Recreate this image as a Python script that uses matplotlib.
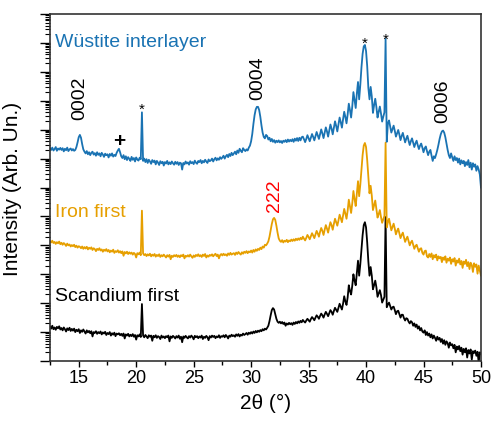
import numpy as np
import matplotlib
matplotlib.use("Agg")
import matplotlib.pyplot as plt
from matplotlib.ticker import LogLocator, NullFormatter, MultipleLocator

OUTPUT_FILENAME = "out.png"
FONT = ["Liberation Sans", "DejaVu Sans"]

BLUE = "#1a73b3"
ORANGE = "#e69f00"
BLACK = "#000000"

# scan: 12.5 ... 50.0 deg, 0.1 deg step; values are log10(counts)
SCAN_START, SCAN_STOP = 12.5, 50.0

wustite_interlayer = [
    7.36, 7.30, 7.38, 7.28, 7.33, 7.40, 7.27, 7.35, 7.31, 7.37,  # 12.5
    7.30, 7.36, 7.25, 7.34, 7.29, 7.38, 7.26, 7.32, 7.35, 7.28,  # 13.5
    7.33, 7.27, 7.30, 7.40, 7.56, 7.74, 7.82, 7.72, 7.50, 7.32,  # 14.5
    7.24, 7.18, 7.26, 7.15, 7.22, 7.12, 7.20, 7.24, 7.14, 7.19,  # 15.5
    7.10, 7.22, 7.13, 7.18, 7.08, 7.20, 7.14, 7.06, 7.17, 7.12,  # 16.5
    7.15, 7.04, 7.16, 7.10, 7.18, 7.07, 7.13, 7.09, 7.20, 7.28,  # 17.5
    7.34, 7.22, 7.08, 7.02, 7.12, 6.98, 7.08, 6.95, 7.05, 6.99,  # 18.5
    6.92, 7.06, 6.96, 7.02, 6.90, 7.04, 6.97, 6.93, 7.03, 6.98,  # 19.5
    8.60, 6.92, 7.00, 6.88, 6.98, 6.85, 6.96, 6.90, 6.82, 6.95,  # 20.5
    6.88, 6.93, 6.80, 6.92, 6.86, 6.78, 6.91, 6.84, 6.89, 6.76,  # 21.5
    6.88, 6.83, 6.92, 6.80, 6.87, 6.81, 6.90, 6.84, 6.79, 6.89,  # 22.5
    6.82, 6.88, 6.78, 6.86, 6.84, 6.62, 6.85, 6.80, 6.90, 6.83,  # 23.5
    6.87, 6.79, 6.91, 6.84, 6.88, 6.81, 6.93, 6.86, 6.82, 6.92,  # 24.5
    6.88, 6.95, 6.84, 6.92, 6.87, 6.96, 6.90, 6.85, 6.97, 6.91,  # 25.5
    6.94, 7.00, 6.90, 6.98, 7.03, 6.94, 7.01, 6.96, 7.05, 6.99,  # 26.5
    7.04, 7.10, 7.00, 7.08, 7.13, 7.05, 7.16, 7.09, 7.20, 7.12,  # 27.5
    7.18, 7.24, 7.15, 7.28, 7.20, 7.34, 7.27, 7.22, 7.36, 7.30,  # 28.5
    7.26, 7.32, 7.28, 7.38, 7.45, 7.60, 7.85, 8.20, 8.50, 8.70,  # 29.5
    8.79, 8.79, 8.68, 8.45, 8.15, 7.90, 7.75, 7.70, 7.82, 7.78,  # 30.5
    7.66, 7.72, 7.60, 7.68, 7.58, 7.64, 7.55, 7.62, 7.57, 7.63,  # 31.5
    7.56, 7.61, 7.54, 7.62, 7.58, 7.64, 7.57, 7.66, 7.59, 7.65,  # 32.5
    7.60, 7.67, 7.58, 7.69, 7.62, 7.71, 7.61, 7.72, 7.63, 7.74,  # 33.5
    7.76, 7.67, 7.57, 7.68, 7.81, 7.71, 7.60, 7.73, 7.85, 7.75,  # 34.5
    7.63, 7.77, 7.92, 7.80, 7.68, 7.84, 8.01, 7.87, 7.71, 7.89,  # 35.5
    8.08, 7.94, 7.76, 7.97, 8.18, 8.04, 7.84, 8.07, 8.29, 8.13,  # 36.5
    7.94, 8.18, 8.42, 8.26, 8.07, 8.36, 8.62, 8.44, 8.22, 8.53,  # 37.5
    8.90, 8.68, 8.42, 8.80, 9.30, 9.02, 8.75, 9.25, 9.65, 9.05,  # 38.5
    9.55, 10.15, 10.62, 10.88, 10.93, 10.72, 10.20, 9.45, 9.05, 9.48,  # 39.5
    9.15, 8.58, 8.85, 9.07, 8.78, 8.42, 8.62, 8.80, 8.56, 8.28,  # 40.5
    8.45, 8.60, 11.14, 7.58, 8.22, 8.32, 8.10, 7.90, 8.02, 8.14,  # 41.5
    7.96, 7.76, 7.88, 7.99, 7.83, 7.64, 7.78, 7.89, 7.72, 7.56,  # 42.5
    7.69, 7.79, 7.62, 7.47, 7.60, 7.70, 7.55, 7.40, 7.53, 7.62,  # 43.5
    7.46, 7.33, 7.45, 7.52, 7.38, 7.22, 7.36, 7.42, 7.26, 7.12,  # 44.5
    7.24, 7.30, 7.10, 6.92, 7.08, 7.02, 7.15, 7.30, 7.48, 7.68,  # 45.5
    7.84, 7.94, 7.97, 7.90, 7.74, 7.52, 7.30, 7.12, 7.02, 7.18,  # 46.5
    7.04, 6.92, 7.08, 6.95, 7.02, 6.86, 7.00, 6.80, 6.94, 6.84,  # 47.5
    6.92, 6.74, 6.88, 6.78, 6.95, 6.70, 6.86, 6.62, 6.84, 6.72,  # 48.5
    6.80, 6.58, 6.74, 6.62, 6.45, 6.00,                          # 49.5
]

iron_first = [
    4.14, 4.10, 4.16, 4.08, 4.12, 4.05, 4.11, 4.07, 4.13, 4.04,  # 12.5
    4.09, 4.02, 4.08, 4.04, 3.98, 4.06, 4.00, 4.03, 3.96, 4.01,  # 13.5
    3.97, 4.02, 3.94, 3.99, 3.92, 3.97, 3.95, 3.90, 3.96, 3.88,  # 14.5
    3.94, 3.89, 3.95, 3.86, 3.92, 3.88, 3.93, 3.84, 3.90, 3.87,  # 15.5
    3.80, 3.88, 3.84, 3.90, 3.82, 3.86, 3.78, 3.85, 3.81, 3.87,  # 16.5
    3.79, 3.84, 3.76, 3.82, 3.78, 3.85, 3.74, 3.80, 3.77, 3.83,  # 17.5
    3.75, 3.80, 3.73, 3.79, 3.64, 3.77, 3.72, 3.78, 3.70, 3.76,  # 18.5
    3.71, 3.75, 3.68, 3.74, 3.70, 3.58, 3.73, 3.69, 3.75, 3.66,  # 19.5
    5.20, 3.72, 3.66, 3.70, 3.63, 3.69, 3.65, 3.71, 3.62, 3.68,  # 20.5
    3.64, 3.70, 3.61, 3.67, 3.63, 3.69, 3.60, 3.66, 3.62, 3.68,  # 21.5
    3.63, 3.58, 3.66, 3.61, 3.67, 3.52, 3.64, 3.60, 3.66, 3.62,  # 22.5
    3.67, 3.60, 3.65, 3.59, 3.66, 3.62, 3.68, 3.55, 3.64, 3.61,  # 23.5
    3.66, 3.61, 3.68, 3.62, 3.57, 3.65, 3.60, 3.67, 3.63, 3.69,  # 24.5
    3.62, 3.66, 3.60, 3.68, 3.63, 3.70, 3.58, 3.65, 3.61, 3.67,  # 25.5
    3.64, 3.69, 3.62, 3.67, 3.71, 3.63, 3.68, 3.55, 3.66, 3.70,  # 26.5
    3.65, 3.71, 3.66, 3.69, 3.64, 3.72, 3.67, 3.74, 3.68, 3.71,  # 27.5
    3.73, 3.67, 3.75, 3.70, 3.77, 3.72, 3.68, 3.76, 3.71, 3.78,  # 28.5
    3.74, 3.80, 3.73, 3.79, 3.76, 3.82, 3.75, 3.84, 3.78, 3.86,  # 29.5
    3.81, 3.88, 3.84, 3.92, 3.87, 3.96, 3.92, 4.02, 4.00, 4.06,  # 30.5
    4.14, 4.30, 4.52, 4.74, 4.90, 4.95, 4.88, 4.68, 4.44, 4.24,  # 31.5
    4.16, 4.12, 4.18, 4.10, 4.16, 4.13, 4.19, 4.11, 4.17, 4.14,  # 32.5
    4.20, 4.15, 4.21, 4.16, 4.23, 4.18, 4.24, 4.19, 4.26, 4.21,  # 33.5
    4.30, 4.23, 4.17, 4.26, 4.36, 4.29, 4.21, 4.32, 4.42, 4.34,  # 34.5
    4.25, 4.38, 4.50, 4.41, 4.30, 4.47, 4.60, 4.50, 4.36, 4.54,  # 35.5
    4.70, 4.58, 4.44, 4.63, 4.80, 4.70, 4.54, 4.74, 4.92, 4.80,  # 36.5
    4.68, 4.86, 5.06, 4.94, 4.80, 5.02, 5.26, 5.10, 4.92, 5.20,  # 37.5
    5.58, 5.36, 5.12, 5.45, 5.88, 5.60, 5.36, 5.80, 6.22, 5.70,  # 38.5
    6.10, 6.62, 7.12, 7.45, 7.54, 7.40, 6.95, 6.35, 5.80, 6.06,  # 39.5
    5.72, 5.22, 5.38, 5.55, 5.26, 4.96, 5.08, 5.22, 4.98, 4.78,  # 40.5
    4.90, 5.02, 7.55, 4.62, 4.80, 4.92, 4.72, 4.52, 4.64, 4.75,  # 41.5
    4.58, 4.38, 4.50, 4.58, 4.42, 4.25, 4.36, 4.44, 4.28, 4.12,  # 42.5
    4.22, 4.30, 4.15, 4.00, 4.10, 4.16, 4.02, 3.88, 3.98, 4.02,  # 43.5
    3.90, 3.78, 3.88, 3.90, 3.74, 3.68, 3.80, 3.82, 3.62, 3.58,  # 44.5
    3.70, 3.60, 3.72, 3.52, 3.66, 3.58, 3.68, 3.48, 3.62, 3.55,  # 45.5
    3.60, 3.42, 3.58, 3.50, 3.62, 3.40, 3.54, 3.47, 3.58, 3.36,  # 46.5
    3.52, 3.44, 3.56, 3.30, 3.48, 3.40, 3.54, 3.34, 3.46, 3.22,  # 47.5
    3.44, 3.36, 3.50, 3.28, 3.42, 3.18, 3.40, 3.32, 3.08, 3.38,  # 48.5
    3.26, 3.34, 3.02, 3.30, 3.12, 2.96,                          # 49.5
]

scandium_first = [
    1.19, 1.12, 1.22, 1.10, 1.16, 1.08, 1.18, 1.13, 1.20, 1.09,  # 12.5
    1.14, 1.06, 1.16, 1.10, 1.02, 1.13, 1.07, 1.15, 1.04, 1.11,  # 13.5
    1.05, 1.12, 1.00, 1.08, 1.03, 1.10, 0.97, 1.06, 1.01, 1.09,  # 14.5
    1.02, 0.95, 1.06, 0.99, 1.04, 0.96, 1.03, 0.85, 1.00, 0.97,  # 15.5
    1.03, 0.94, 1.00, 0.96, 1.02, 0.92, 0.99, 0.95, 1.01, 0.90,  # 16.5
    0.97, 0.93, 1.00, 0.88, 0.96, 0.91, 0.98, 0.86, 0.95, 0.92,  # 17.5
    0.96, 0.89, 0.94, 0.87, 0.95, 0.78, 0.92, 0.88, 0.94, 0.85,  # 18.5
    0.91, 0.86, 0.93, 0.84, 0.90, 0.74, 0.89, 0.85, 0.92, 0.83,  # 19.5
    1.97, 0.88, 0.82, 0.90, 0.85, 0.79, 0.89, 0.84, 0.88, 0.70,  # 20.5
    0.87, 0.82, 0.89, 0.80, 0.86, 0.83, 0.76, 0.88, 0.81, 0.85,  # 21.5
    0.79, 0.86, 0.82, 0.88, 0.68, 0.85, 0.80, 0.87, 0.83, 0.78,  # 22.5
    0.86, 0.81, 0.88, 0.77, 0.84, 0.65, 0.85, 0.80, 0.87, 0.82,  # 23.5
    0.78, 0.86, 0.81, 0.88, 0.83, 0.75, 0.87, 0.82, 0.86, 0.79,  # 24.5
    0.85, 0.81, 0.88, 0.76, 0.84, 0.80, 0.87, 0.82, 0.72, 0.86,  # 25.5
    0.81, 0.88, 0.83, 0.87, 0.79, 0.85, 0.82, 0.89, 0.80, 0.86,  # 26.5
    0.84, 0.89, 0.82, 0.90, 0.85, 0.78, 0.88, 0.84, 0.91, 0.86,  # 27.5
    0.89, 0.84, 0.92, 0.87, 0.93, 0.85, 0.91, 0.88, 0.95, 0.90,  # 28.5
    0.93, 0.97, 0.91, 0.98, 0.94, 1.00, 0.95, 1.02, 0.97, 1.04,  # 29.5
    0.99, 1.05, 1.01, 1.07, 1.03, 1.10, 1.06, 1.12, 1.09, 1.15,  # 30.5
    1.22, 1.38, 1.58, 1.76, 1.83, 1.78, 1.62, 1.46, 1.36, 1.32,  # 31.5
    1.36, 1.30, 1.35, 1.28, 1.33, 1.22, 1.30, 1.26, 1.32, 1.27,  # 32.5
    1.31, 1.25, 1.33, 1.28, 1.35, 1.30, 1.37, 1.32, 1.39, 1.34,  # 33.5
    1.42, 1.37, 1.33, 1.40, 1.46, 1.41, 1.36, 1.45, 1.52, 1.47,  # 34.5
    1.41, 1.50, 1.58, 1.53, 1.46, 1.56, 1.64, 1.58, 1.50, 1.61,  # 35.5
    1.70, 1.63, 1.55, 1.66, 1.76, 1.70, 1.60, 1.73, 1.84, 1.77,  # 36.5
    1.70, 1.84, 1.98, 1.88, 1.78, 1.98, 2.24, 2.06, 1.94, 2.20,  # 37.5
    2.62, 2.42, 2.30, 2.60, 3.00, 2.78, 2.62, 3.05, 3.47, 2.95,  # 38.5
    3.35, 3.85, 4.35, 4.70, 4.80, 4.62, 4.10, 3.45, 2.95, 3.25,  # 39.5
    2.95, 2.48, 2.62, 2.78, 2.55, 2.22, 2.34, 2.45, 2.28, 2.02,  # 40.5
    2.12, 2.22, 4.98, 1.86, 1.95, 2.02, 1.90, 1.78, 1.86, 1.88,  # 41.5
    1.76, 1.62, 1.72, 1.74, 1.62, 1.50, 1.60, 1.60, 1.48, 1.40,  # 42.5
    1.48, 1.46, 1.36, 1.30, 1.38, 1.34, 1.22, 1.30, 1.18, 1.26,  # 43.5
    1.12, 1.20, 1.06, 1.14, 1.02, 0.98, 1.06, 0.90, 1.00, 0.88,  # 44.5
    0.95, 0.82, 0.92, 0.78, 0.88, 0.80, 0.70, 0.84, 0.74, 0.80,  # 45.5
    0.66, 0.76, 0.60, 0.72, 0.56, 0.68, 0.62, 0.46, 0.64, 0.54,  # 46.5
    0.58, 0.44, 0.56, 0.30, 0.50, 0.40, 0.52, 0.34, 0.46, 0.22,  # 47.5
    0.42, 0.30, 0.44, 0.12, 0.38, 0.26, 0.40, 0.05, 0.34, 0.28,  # 48.5
    0.36, 0.18, 0.32, -0.05, 0.30, 0.24,                         # 49.5
]

# (2theta, log10 height of the text baseline, label, colour)
peak_labels = [
    (15.1, 8.37, "0002", BLACK),
    (30.6, 9.07, "0004", BLACK),
    (46.7, 8.27, "0006", BLACK),
    (32.0, 5.19, "222", "red"),
]
# substrate / impurity markers: (2theta, log10 position, symbol)
markers = [
    (20.5, 8.72, "*"),
    (39.85, 11.0, "*"),
    (41.7, 11.15, "*"),
    (18.5, 7.62, "+"),
]
# trace names: (2theta, log10 position, text, colour)
trace_names = [
    (12.9, 11.04, "Wüstite interlayer", BLUE),
    (12.9, 5.16, "Iron first", ORANGE),
    (12.9, 2.25, "Scandium first", BLACK),
]


def main():
    plt.rcParams["font.family"] = FONT

    fig = plt.figure(figsize=(4.92, 4.27), dpi=100)
    ax = fig.add_axes([0.1016, 0.1522, 0.876, 0.8126])

    for values, color in [(scandium_first, BLACK), (iron_first, ORANGE),
                          (wustite_interlayer, BLUE)]:
        logs = np.array(values)
        two_theta = np.linspace(SCAN_START, SCAN_STOP, len(logs))
        ax.plot(two_theta, 10 ** logs, color=color, linewidth=1.3)

    for x, y, text, color in peak_labels:
        ax.text(x, 10 ** y, text, rotation=90, ha="center", va="bottom",
                color=color, fontsize=14)
    for x, y, sym in markers:
        ax.text(x, 10 ** y, sym, ha="center", va="center", fontsize=11 if sym == "*" else 15,
                fontweight="bold" if sym == "+" else "normal")
    for x, y, text, color in trace_names:
        ax.text(x, 10 ** y, text, ha="left", va="center", color=color, fontsize=14)

    ax.set_yscale("log")
    ax.set_xlim(SCAN_START, SCAN_STOP)
    ax.set_ylim(1, 1e12)

    ax.xaxis.set_major_locator(MultipleLocator(5))
    ax.xaxis.set_minor_locator(MultipleLocator(2.5))
    ax.yaxis.set_major_locator(LogLocator(base=10, numticks=30))
    ax.yaxis.set_minor_locator(LogLocator(base=10, subs=np.arange(2, 10), numticks=30))
    ax.yaxis.set_major_formatter(NullFormatter())
    ax.yaxis.set_minor_formatter(NullFormatter())

    ax.tick_params(axis="x", which="major", direction="out", length=4, width=1.0,
                   labelsize=13, pad=2)
    ax.tick_params(axis="x", which="minor", direction="out", length=3, width=1.0)
    ax.tick_params(axis="y", which="major", direction="out", length=7, width=1.0)
    ax.tick_params(axis="y", which="minor", direction="out", length=3.5, width=0.8)
    for spine in ax.spines.values():
        spine.set_linewidth(1.2)
        spine.set_color("#333333")

    ax.set_xlabel("2θ (°)", fontsize=15, labelpad=5)
    ax.set_ylabel("Intensity (Arb. Un.)", fontsize=15, labelpad=10)

    fig.savefig(OUTPUT_FILENAME, dpi=100)


if __name__ == "__main__":
    main()
